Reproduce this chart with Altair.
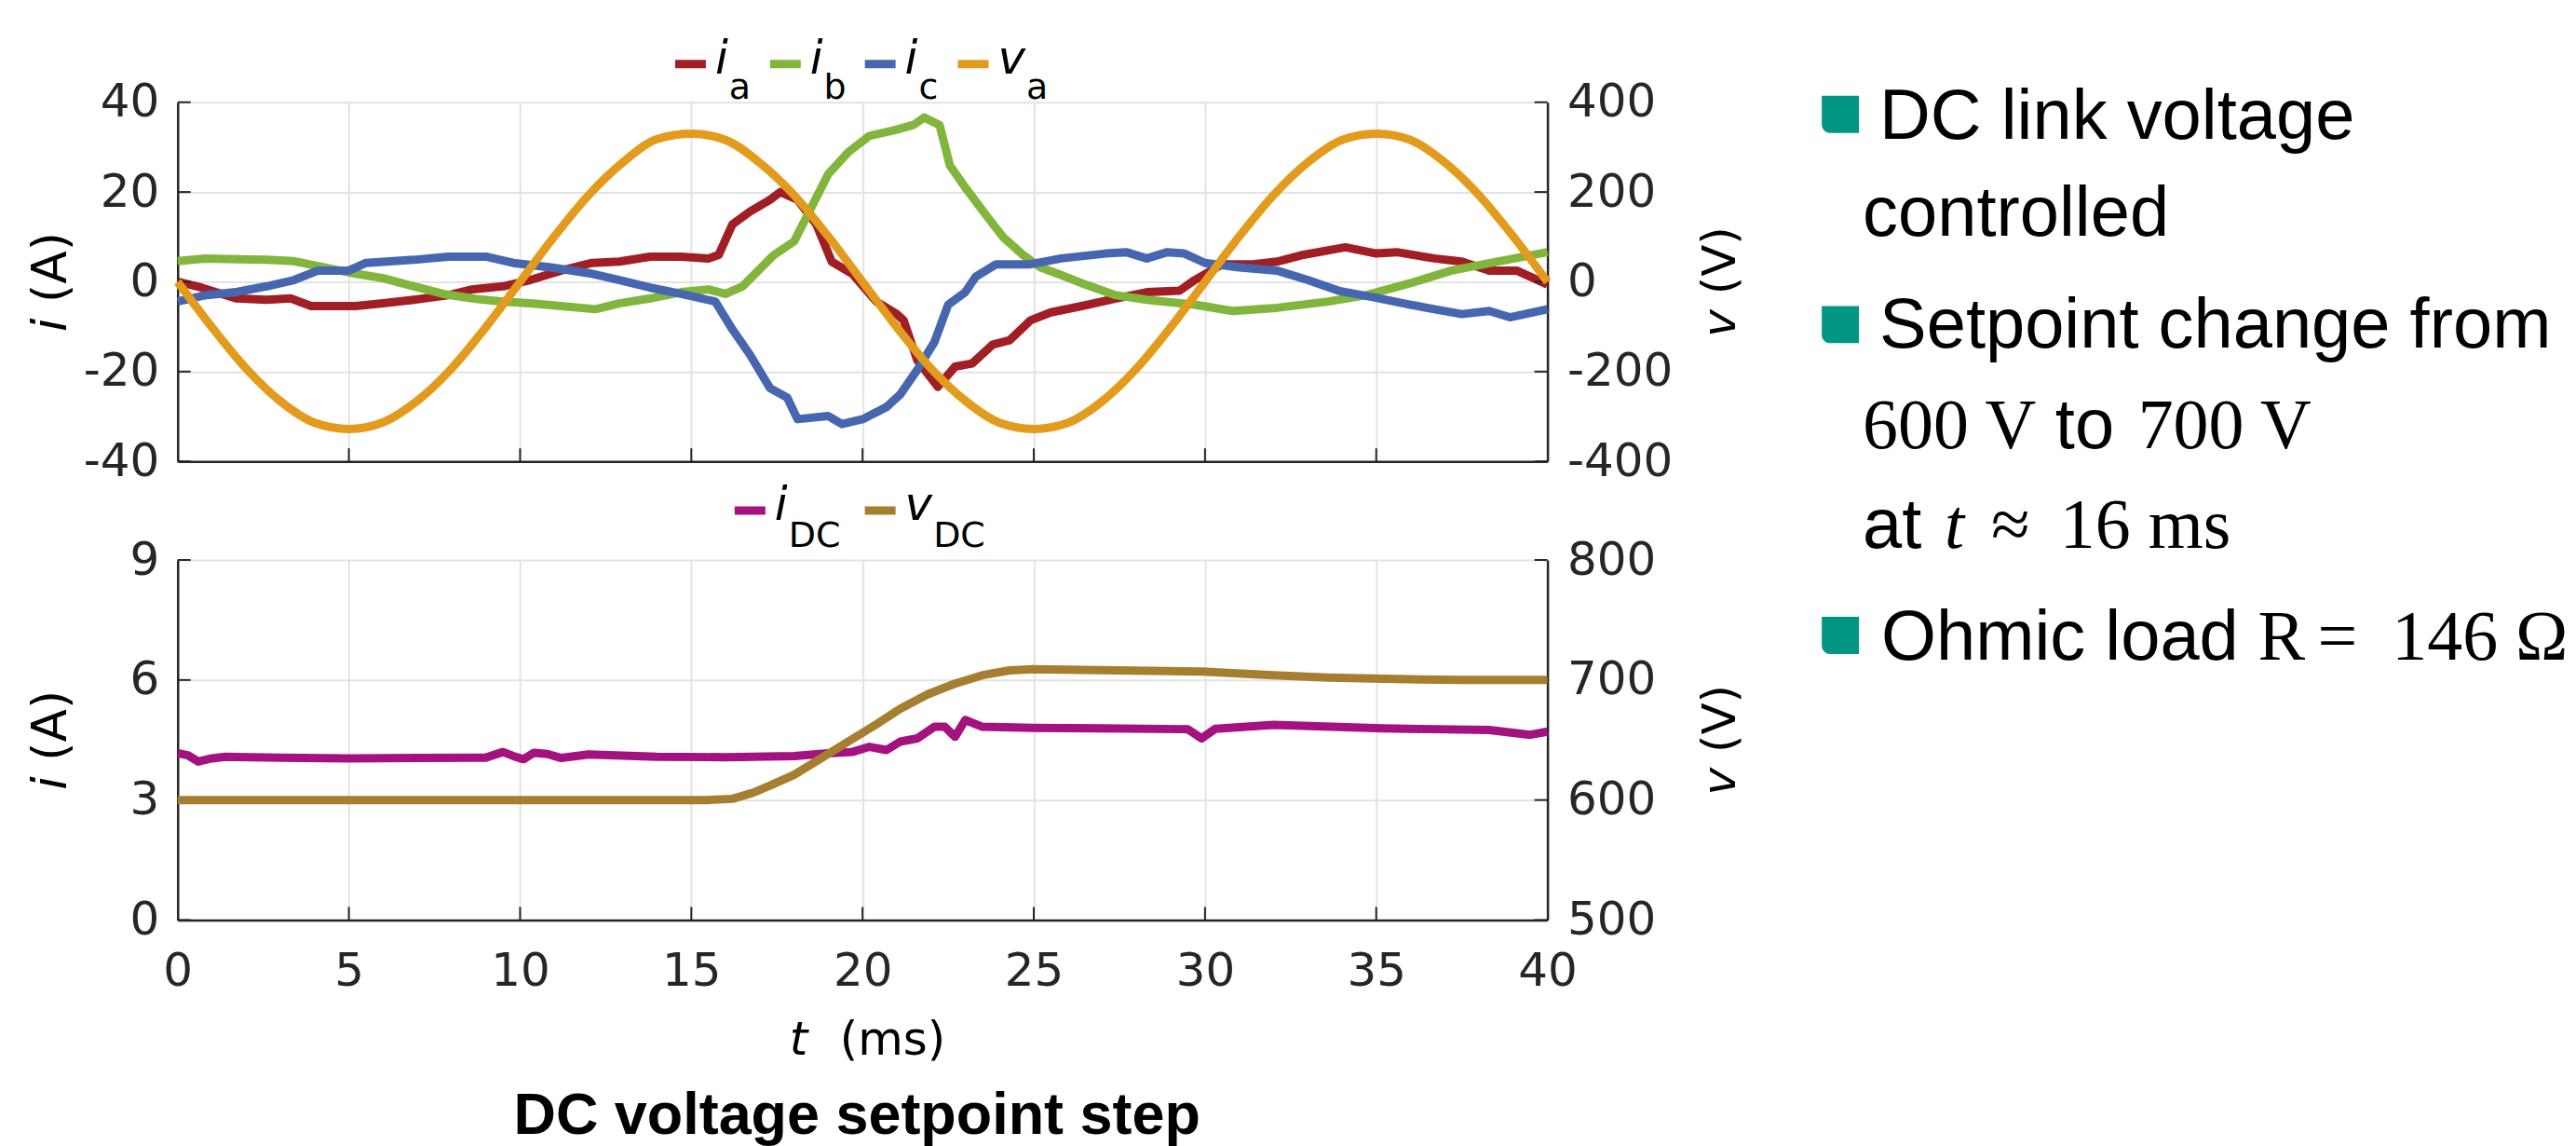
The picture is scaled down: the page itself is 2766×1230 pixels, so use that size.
import altair as alt
import pandas as pd

# ---------------- data ----------------
T_IA = [0, 0.7, 1.7, 2.6, 3.3, 3.9, 5.2, 6.0, 6.9, 7.9, 8.6, 9.5, 10.3, 11.2, 12.1, 12.9, 13.8, 14.7, 15.5, 15.8,
        16.2, 16.7, 17.3, 17.6, 18.1, 18.65, 19.1, 19.7, 20.4, 21.0, 21.2, 21.6, 22.2, 22.7, 23.2, 23.8, 24.3, 24.9,
        25.5, 26.4, 27.4, 28.3, 29.25, 29.7, 30.5, 31.4, 32.1, 32.8, 34.1, 35.0, 35.6, 36.7, 37.5, 38.3, 39.1, 40]
IA = [0, -1.3, -3.7, -4.0, -3.7, -5.4, -5.4, -4.8, -4.0, -3.0, -1.7, -1.0, 0.4, 2.5, 4.2, 4.5, 5.6, 5.6, 5.2, 6.0,
      12.8, 15.6, 18.3, 20.0, 18.3, 12.8, 4.5, 1.8, -4.4, -7.2, -8.6, -17.5, -23.4, -18.9, -18.2, -14.0, -13.0, -8.6,
      -6.8, -5.4, -3.7, -2.3, -2.0, 0.4, 3.9, 3.9, 4.5, 5.9, 7.7, 6.3, 6.6, 5.2, 4.5, 2.5, 2.5, -0.6]

T_IB = [0, 0.8, 2.6, 3.4, 4.3, 5.2, 6.0, 6.9, 7.75, 8.6, 9.5, 10.3, 11.2, 12.2, 12.9, 13.8, 14.7, 15.5, 16.0, 16.5,
        17.4, 18.0, 18.3, 19.0, 19.6, 20.2, 21.0, 21.5, 21.8, 22.25, 22.55, 23.0, 23.6, 24.1, 24.7, 25.2, 25.8, 26.4,
        27.4, 28.3, 29.7, 30.8, 32.1, 33.6, 34.7, 36.0, 37.2, 38.6, 40]
IB = [4.6, 5.2, 4.9, 4.6, 3.2, 1.8, 0.8, -1.0, -2.7, -3.7, -4.4, -4.8, -5.4, -6.1, -4.8, -3.7, -2.3, -1.7, -2.7, -1.0,
      5.9, 9.0, 13.5, 24.0, 29.0, 32.5, 33.9, 35.0, 36.6, 34.9, 25.9, 21.0, 14.9, 10.0, 5.9, 3.2, 1.5, -0.3,
      -3.0, -4.0, -5.1, -6.5, -5.8, -4.4, -3.0, -0.3, 2.5, 4.6, 6.6]

T_IC = [0, 0.8, 1.7, 2.6, 3.4, 4.1, 5.0, 5.5, 6.9, 7.9, 9.0, 9.8, 10.9, 12.1, 12.9, 13.8, 14.7, 15.7, 16.2, 16.7,
        17.3, 17.8, 18.1, 19.0, 19.4, 20.0, 20.7, 21.1, 21.6, 22.1, 22.5, 23.0, 23.3, 23.9, 24.9, 25.8, 27.1, 27.7,
        28.3, 28.9, 29.4, 30.0, 31.0, 32.1, 33.0, 33.9, 34.9, 36.0, 36.7, 37.5, 38.3, 38.9, 40]
IC = [-4.4, -3.0, -2.3, -1.0, 0.4, 2.5, 2.5, 4.2, 4.9, 5.6, 5.6, 4.2, 3.2, 1.8, 0.4, -1.3, -2.7, -4.4, -10.6, -16.1,
      -23.7, -25.8, -30.6, -29.9, -31.7, -30.6, -27.9, -25.1, -19.6, -13.4, -5.1, -2.3, 1.1, 3.9, 3.9, 5.2, 6.3, 6.6,
      5.2, 6.6, 6.3, 4.2, 3.2, 2.5, 0.4, -2.0, -3.4, -5.1, -6.1, -7.2, -6.5, -7.9, -6.1]

T_VA = [0, 1, 2, 3, 4, 5, 6, 7, 8, 9, 10, 11, 12, 13, 14, 15, 16, 17, 18, 19, 20,
        21, 22, 23, 24, 25, 26, 27, 28, 29, 30, 31, 32, 33, 34, 35, 36, 37, 38, 39, 40]
VA = [0, -101, -193, -266, -314, -328, -313, -265, -193, -101, 0, 101, 193, 266, 318, 330, 316, 265, 193, 101, 0,
      -101, -193, -265, -314, -328, -314, -266, -193, -101, 0, 101, 193, 266, 316, 330, 316, 266, 193, 101, 0]

T_IDC = [0, 0.3, 0.6, 1.0, 1.4, 3, 5, 7, 9, 9.5, 9.8, 10.1, 10.4, 10.8, 11.2, 12, 14, 16, 18, 19.0,
         19.7, 20.2, 20.7, 21.1, 21.6, 22.1, 22.4, 22.7, 23.0, 23.5, 25, 27, 29.5, 29.9, 30.3, 32, 35.2, 38.3, 39.5, 40]
IDC = [4.17, 4.12, 3.96, 4.04, 4.08, 4.06, 4.04, 4.05, 4.06, 4.2, 4.1, 4.02, 4.18, 4.15, 4.05, 4.14, 4.08, 4.07, 4.1, 4.17,
       4.2, 4.33, 4.25, 4.46, 4.54, 4.83, 4.83, 4.58, 5.0, 4.83, 4.8, 4.79, 4.77, 4.54, 4.78, 4.88, 4.79, 4.75, 4.63, 4.71]

T_VDC = [0, 4, 8, 12, 15.5, 16.2, 16.8, 17.3, 18.0, 18.8, 19.6, 20.4, 21.1, 21.9, 22.7, 23.5, 24.3, 25.0,
         27.4, 29.9, 32.0, 33.6, 35.2, 37.5, 40]
VDC = [600, 600, 600, 600, 600, 601, 606, 612, 621, 635, 649, 663, 676, 688, 697, 704, 708, 709,
       708, 707, 704, 702, 701, 700, 700]

X_TICKS = [0, 5, 10, 15, 20, 25, 30, 35, 40]
Y_TOP_I = [-40, -20, 0, 20, 40]
Y_TOP_V = [-400, -200, 0, 200, 400]
Y_BOT_I = [0, 3, 6, 9]
Y_BOT_V = [500, 600, 700, 800]

SERIES_TOP = ["ia", "ib", "ic"]
# ---------------- style ----------------
RED, GREEN, BLUE, ORANGE = "#A11E24", "#82B53C", "#4666B0", "#E39B1E"
MAGENTA, GOLD = "#A3127E", "#A67E2F"
TEAL = "#009682"
INK = "#262626"
GRID = "#e3e3e3"
W, H, H2 = 1473, 386, 387
LW = 9
TICK = 14
AX_FONT = "DejaVu Sans"
SANS = "Liberation Sans"
SERIF = "Liberation Serif"
LABEL_EXPR = "'' + datum.value"

ONE = alt.Data(values=[{"k": 0}])


def text(s, x, y, size, font=AX_FONT, style="normal", weight="normal", align="left", angle=0, color="black"):
    return alt.Chart(ONE).mark_text(
        text=s, font=font, fontSize=size, fontStyle=style, fontWeight=weight,
        align=align, baseline="alphabetic", angle=angle, color=color
    ).encode(x=alt.value(x), y=alt.value(y))


def hline(x0, x1, y, color, width):
    return alt.Chart(ONE).mark_rule(color=color, strokeWidth=width).encode(
        x=alt.value(x0), x2=alt.value(x1), y=alt.value(y))


def legend(items, x0s, ysym, ymain, ysub):
    out = []
    for (main, sub, col), x0 in zip(items, x0s):
        out.append(hline(x0, x0 + 33, ysym, col, 9))
        out.append(text(main, x0 + 43, ymain, 50, style="italic"))
        wmain = (0.278 if main == "i" else 0.592) * 50 + 1
        out.append(text(sub, x0 + 43 + wmain, ysub, 38))
    return out


def vtitle(var, unit, xbase, hgt, size):
    # rotated title reading bottom-to-top: italic variable then unit
    wvar = (0.278 if var == "i" else 0.592) * size
    total = wvar + 0.318 * size + 1.464 * size
    ystart = hgt / 2 + total / 2
    return [text(var, xbase, ystart, size, style="italic", angle=270),
            text(unit, xbase, ystart - wvar - 0.318 * size, size, angle=270)]


def xaxis(labels):
    return alt.X("t:Q", scale=alt.Scale(domain=[0, 40], nice=False, zero=False),
                 axis=alt.Axis(values=X_TICKS, labels=labels, title=None, grid=True, domain=True,
                               labelPadding=30, labelFlush=False, labelOverlap=False, labelExpr=LABEL_EXPR))


def yaxis(field, dom, vals, orient, grid):
    return alt.Y(f"{field}:Q", scale=alt.Scale(domain=dom, nice=False, zero=False),
                 axis=alt.Axis(values=vals, orient=orient, title=None, grid=grid, domain=True,
                               labelPadding=20 if orient == "left" else 21, labelExpr=LABEL_EXPR))


def inward_ticks(xenc, yenc, yfield, yvals, hgt):
    xt = alt.Chart(pd.DataFrame({"t": X_TICKS[1:-1]})).mark_rule(color=INK, strokeWidth=2).encode(
        x=xenc, y=alt.value(hgt), y2=alt.value(hgt - TICK))
    yl = alt.Chart(pd.DataFrame({yfield: yvals})).mark_rule(color=INK, strokeWidth=2).encode(
        y=yenc, x=alt.value(0), x2=alt.value(TICK))
    yr = alt.Chart(pd.DataFrame({yfield: yvals})).mark_rule(color=INK, strokeWidth=2).encode(
        y=yenc, x=alt.value(W - TICK), x2=alt.value(W))
    return [xt, yl, yr]


# ---------------- top panel ----------------
cur_df = pd.concat([
    pd.DataFrame({"t": T_IA, "i": IA, "s": "ia"}),
    pd.DataFrame({"t": T_IB, "i": IB, "s": "ib"}),
    pd.DataFrame({"t": T_IC, "i": IC, "s": "ic"}),
], ignore_index=True)
va_df = pd.DataFrame({"t": T_VA, "v": VA})

XT = xaxis(False)
YTI = yaxis("i", [-40, 40], Y_TOP_I, "left", True)
YTV = yaxis("v", [-400, 400], Y_TOP_V, "right", False)

cur = alt.Chart(cur_df).mark_line(strokeWidth=LW, strokeJoin="round").encode(
    x=XT, y=YTI,
    color=alt.Color("s:N", scale=alt.Scale(domain=SERIES_TOP, range=[RED, GREEN, BLUE]), legend=None))
va = alt.Chart(va_df).mark_line(strokeWidth=LW, color=ORANGE, interpolate="monotone").encode(x=XT, y=YTV)

top_ann = []
top_ann += legend([("i", "a", RED), ("i", "b", GREEN), ("i", "c", BLUE), ("v", "a", ORANGE)],
                  [535, 637, 739, 839], -41, -31, -4)
top_ann += vtitle("i", "(A)", -120, H, 52)
top_ann += vtitle("v", "(V)", 1675, H, 50)


# right-hand bullet text block (positions relative to the top plot)
def bullet(y0):
    return alt.Chart(ONE).mark_rect(color=TEAL, cornerRadiusBottomLeft=9).encode(
        x=alt.value(1768), x2=alt.value(1808), y=alt.value(y0), y2=alt.value(y0 + 40))


TXT = 76
top_ann += [
    bullet(-7), bullet(219), bullet(553),
    text("DC link voltage", 1830, 39, TXT, font=SANS),
    text("controlled", 1812, 143, TXT, font=SANS),
    text("Setpoint change from", 1830, 264, TXT, font=SANS),
    text("600 V", 1812, 372, 76, font=SERIF),
    text("to", 2019, 372, TXT, font=SANS),
    text("700 V", 2108, 372, 76, font=SERIF),
    text("at", 1812, 479, TXT, font=SANS),
    text("t", 1900, 479, 76, font=SERIF, style="italic"),
    text("\u2248", 1950, 479, 76, font=SERIF),
    text("16 ms", 2024, 479, 76, font=SERIF),
    text("Ohmic load", 1832, 599, TXT, font=SANS),
    text("R", 2237, 599, 76, font=SERIF),
    text("=", 2301, 599, 76, font=SERIF),
    text("146", 2381, 599, 76, font=SERIF),
    text("\u03a9", 2514, 599, 76, font=SERIF),
]

top_inner = alt.layer(cur, *inward_ticks(XT, YTI, "i", Y_TOP_I, H), *top_ann)
top = alt.layer(top_inner, va).resolve_scale(y="independent").properties(width=W, height=H)

# ---------------- bottom panel ----------------
idc_df = pd.DataFrame({"t": T_IDC, "i": IDC})
vdc_df = pd.DataFrame({"t": T_VDC, "v": VDC})

XB = xaxis(True)
YBI = yaxis("i", [0, 9], Y_BOT_I, "left", True)
YBV = yaxis("v", [500, 800], Y_BOT_V, "right", False)

idc = alt.Chart(idc_df).mark_line(strokeWidth=LW, color=MAGENTA, strokeJoin="round").encode(x=XB, y=YBI)
vdc = alt.Chart(vdc_df).mark_line(strokeWidth=LW, color=GOLD, strokeJoin="round").encode(x=XB, y=YBV)

bot_ann = []
bot_ann += legend([("i", "DC", MAGENTA), ("v", "DC", GOLD)], [599, 739], -53, -43, -14)
bot_ann += vtitle("i", "(A)", -120, H2, 52)
bot_ann += vtitle("v", "(V)", 1675, H2, 50)
bot_ann += [
    text("t", 658, 532, 50, style="italic"),
    text("(ms)", 712, 532, 50),
    text("DC voltage setpoint step", W / 2 - 6, 617, 63, font=SANS, weight="bold", align="center"),
]

bot_inner = alt.layer(idc, *inward_ticks(XB, YBI, "i", Y_BOT_I, H2), *bot_ann)
bottom = alt.layer(bot_inner, vdc).resolve_scale(y="independent").properties(width=W, height=H2)

chart = alt.vconcat(top, bottom, spacing=106, bounds="flush").properties(
    padding={"left": 20, "top": 30, "right": 0, "bottom": 0}
).configure_view(stroke=None).configure_axis(
    labelFont=AX_FONT, labelFontSize=50, labelColor=INK,
    domainColor=INK, domainWidth=2.5, gridColor=GRID, gridWidth=2,
    ticks=False, tickSize=0,
)

chart.save("out.html", embed_options={"renderer": "svg", "actions": False})
